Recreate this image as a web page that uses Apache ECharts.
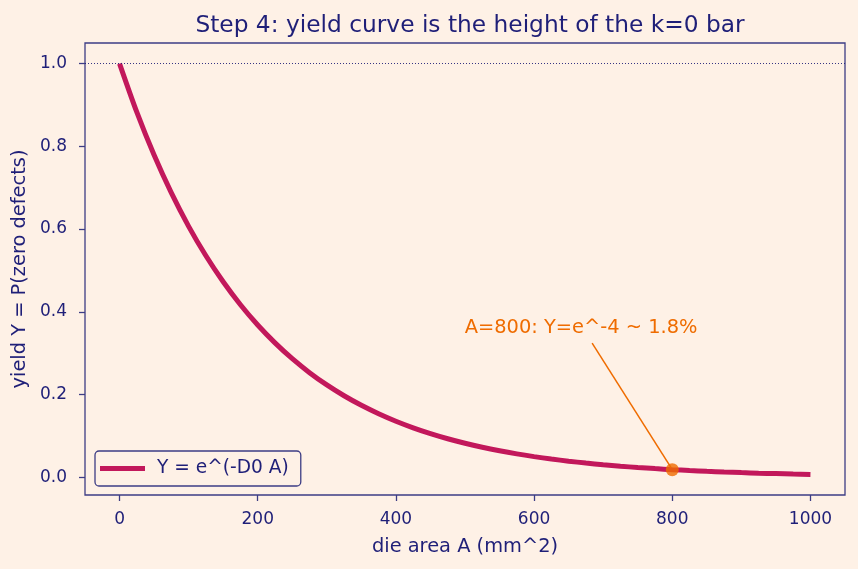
<!DOCTYPE html>
<html>
<head>
<meta charset="utf-8">
<script src="https://cdn.jsdelivr.net/npm/echarts@6/dist/echarts.min.js"></script>
<style>
html,body{margin:0;padding:0;background:#fef1e6;}
#c{width:858px;height:569px;}
</style>
</head>
<body>
<div id="c"></div>
<script>
const areaA = [0,25,50,75,100,125,150,175,200,225,250,275,300,325,350,375,400,425,450,475,500,525,550,575,600,625,650,675,700,725,750,775,800,825,850,875,900,925,950,975,1000];
const yieldY = [1.000,0.8825,0.7788,0.6873,0.6065,0.5353,0.4724,0.4169,0.3679,0.3247,0.2865,0.2528,0.2231,0.1969,0.1738,0.1534,0.1353,0.1194,0.1054,0.0930,0.0821,0.0724,0.0639,0.0564,0.0498,0.0439,0.0388,0.0342,0.0302,0.0266,0.0235,0.0208,0.0183,0.0162,0.0143,0.0126,0.0111,0.0098,0.0087,0.0076,0.0067];
const xTicks = [0,200,400,600,800,1000];
const yTicks = [0.0,0.2,0.4,0.6,0.8,1.0];
const markA = 800;
const markY = 0.0183;
const noteText = 'A=800: Y=e^-4 ~ 1.8%';
const noteAt = [668, 0.362];
const arrowFrom = [684, 0.324];
const arrowTo = [798, 0.024];

const navy = '#1f1f78';
const spine = '#3d3d85';
const crimson = '#c2185b';
const orange = '#ef6c00';
const font = 'DejaVu Sans';
const tickFs = 17;
const labelFs = 19.4;

const chart = echarts.init(document.getElementById('c'), null, {renderer:'canvas'});
chart.setOption({
  backgroundColor: '#fef1e6',
  animation: false,
  textStyle: {fontFamily: font},
  title: {
    text: 'Step 4: yield curve is the height of the k=0 bar',
    left: 465, textAlign: 'center', top: 9,
    textStyle: {color: navy, fontSize: 23.3, fontWeight: 'normal', fontFamily: font}
  },
  grid: {left: 85, right: 13, top: 43, bottom: 74, show: true, borderColor: spine, borderWidth: 1.3, backgroundColor: 'transparent'},
  legend: {
    data: ['Y = e^(-D0 A)'],
    left: 95, top: 451,
    orient: 'vertical',
    backgroundColor: '#fef1e6',
    borderColor: spine, borderWidth: 1.3, borderRadius: 4,
    padding: [8, 12, 8, 5],
    itemWidth: 45, itemHeight: 5, icon: 'rect',
    itemGap: 0,
    textStyle: {color: navy, fontSize: 18.6, fontFamily: font, padding: [0,0,0,7]}
  },
  xAxis: {
    type: 'value', min: -50, max: 1050,
    name: 'die area A (mm^2)', nameLocation: 'middle', nameGap: 42,
    nameTextStyle: {color: navy, fontSize: labelFs, fontFamily: font},
    axisLine: {show: false, onZero: false},
    splitLine: {show: false},
    axisTick: {show: true, length: 6, lineStyle: {color: spine, width: 1.3}, customValues: xTicks},
    axisLabel: {color: navy, fontSize: tickFs, fontFamily: font, margin: 16, customValues: xTicks, formatter: v => String(v)}
  },
  yAxis: {
    type: 'value', min: -0.043, max: 1.0497,
    name: 'yield Y = P(zero defects)', nameLocation: 'middle', nameGap: 51,
    nameTextStyle: {color: navy, fontSize: labelFs, fontFamily: font},
    axisLine: {show: false, onZero: false},
    splitLine: {show: false},
    axisTick: {show: true, length: 6, lineStyle: {color: spine, width: 1.3}, customValues: yTicks},
    axisLabel: {color: navy, fontSize: tickFs, fontFamily: font, margin: 18, customValues: yTicks, formatter: v => v.toFixed(1)}
  },
  series: [
    {
      name: 'Y = e^(-D0 A)',
      type: 'line',
      data: areaA.map((a, i) => [a, yieldY[i]]),
      smooth: 0.3,
      showSymbol: false,
      lineStyle: {color: crimson, width: 5},
      itemStyle: {color: crimson},
      z: 3,
      markLine: {
        silent: true,
        symbol: 'none',
        label: {show: false},
        lineStyle: {color: navy, type: [1, 2], width: 0.9},
        data: [{yAxis: 1.0}]
      }
    },
    {
      name: 'point',
      type: 'scatter',
      data: [[markA, markY]],
      symbolSize: 13,
      itemStyle: {color: orange},
      z: 5,
      markLine: {
        silent: true,
        symbol: ['none', 'arrow'],
        symbolSize: [0, 10],
        label: {show: false},
        lineStyle: {color: orange, width: 1.5, type: 'solid'},
        data: [[{coord: arrowFrom}, {coord: arrowTo}]]
      },
      markPoint: {
        silent: true,
        symbol: 'circle', symbolSize: 0,
        label: {show: true, formatter: noteText, color: orange, fontSize: labelFs, fontFamily: font, position: 'inside'},
        data: [{coord: noteAt}]
      }
    }
  ]
});
</script>
</body>
</html>
